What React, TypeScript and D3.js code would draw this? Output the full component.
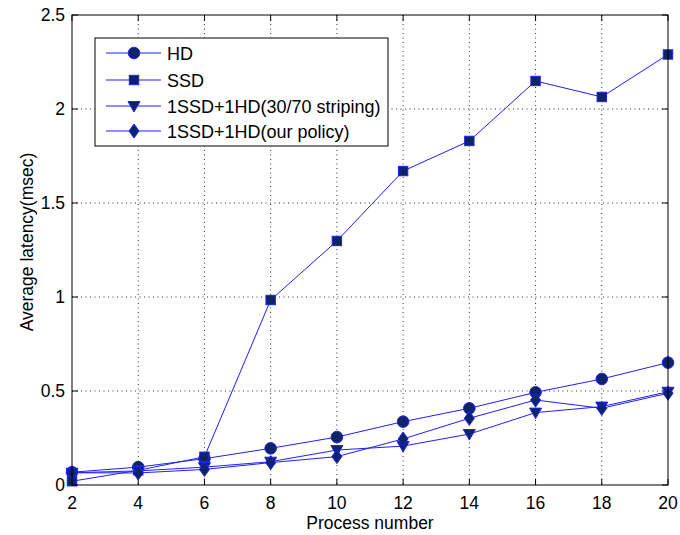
import React from "react";
import * as d3 from "d3";

const processNumbers = [2, 4, 6, 8, 10, 12, 14, 16, 18, 20];
const hdValues = [0.068, 0.095, 0.14, 0.195, 0.255, 0.337, 0.408, 0.493, 0.564, 0.651];
const ssdValues = [0.02, 0.078, 0.15, 0.984, 1.298, 1.67, 1.83, 2.149, 2.064, 2.29];
const stripingValues = [0.065, 0.075, 0.095, 0.124, 0.186, 0.207, 0.271, 0.385, 0.417, 0.496];
const policyValues = [0.065, 0.064, 0.083, 0.119, 0.151, 0.245, 0.355, 0.452, 0.408, 0.488];
const seriesNames = ["HD", "SSD", "1SSD+1HD(30/70 striping)", "1SSD+1HD(our policy)"];
const markerTypes = ["circle", "square", "triangle", "diamond"];
const xTicks = [2, 4, 6, 8, 10, 12, 14, 16, 18, 20];
const yTicks = [0, 0.5, 1, 1.5, 2, 2.5];
const yTickLabels = ["0", "0.5", "1", "1.5", "2", "2.5"];

const W = 680, H = 535;
const L = 72, R = 668, T = 15, B = 485;
const LINE = "#1f1fff";
const FILL = "#0d2466";
const FONT = "Liberation Sans, Arial, Helvetica, sans-serif";

function Marker({ type, x, y }: { type: string; x: number; y: number }) {
  const common = { fill: FILL, stroke: LINE, strokeWidth: 1 };
  if (type === "circle") return <circle cx={x} cy={y} r={5.8} {...common} />;
  if (type === "square") return <rect x={x - 4.7} y={y - 4.7} width={9.4} height={9.4} {...common} />;
  if (type === "triangle") {
    const p = `${x - 6},${y - 4.5} ${x + 6},${y - 4.5} ${x},${y + 6}`;
    return <polygon points={p} {...common} />;
  }
  const p = `${x},${y - 7} ${x + 5},${y} ${x},${y + 7} ${x - 5},${y}`;
  return <polygon points={p} {...common} />;
}

export default function App() {
  const x = d3.scaleLinear().domain([2, 20]).range([L, R]);
  const y = d3.scaleLinear().domain([0, 2.5]).range([B, T]);
  const all = [hdValues, ssdValues, stripingValues, policyValues];
  const line = d3
    .line<number>()
    .x((_, i) => x(processNumbers[i]))
    .y((d) => y(d));

  const legendRows = [53, 80, 106, 131];

  return (
    <svg width={W} height={H} style={{ position: "absolute", left: 0, top: 0, background: "#fff", fontFamily: FONT }}>
      <rect x={0} y={0} width={W} height={H} fill="#fff" />
      {/* grid */}
      {xTicks.slice(1, -1).map((t) => (
        <line key={"gx" + t} x1={x(t)} x2={x(t)} y1={T} y2={B} stroke="#333" strokeWidth={1} strokeDasharray="1,3.5" />
      ))}
      {yTicks.slice(1, -1).map((t) => (
        <line key={"gy" + t} x1={L} x2={R} y1={y(t)} y2={y(t)} stroke="#333" strokeWidth={1} strokeDasharray="1,3.5" />
      ))}
      {/* ticks */}
      {xTicks.map((t) => (
        <g key={"tx" + t}>
          <line x1={x(t)} x2={x(t)} y1={B} y2={B - 6} stroke="#000" />
          <line x1={x(t)} x2={x(t)} y1={T} y2={T + 6} stroke="#000" />
          <text x={x(t)} y={509} fontSize={17.5} textAnchor="middle">{t}</text>
        </g>
      ))}
      {yTicks.map((t, i) => (
        <g key={"ty" + t}>
          <line x1={L} x2={L + 6} y1={y(t)} y2={y(t)} stroke="#000" />
          <line x1={R} x2={R - 6} y1={y(t)} y2={y(t)} stroke="#000" />
          <text x={65} y={y(t) + 6} fontSize={17.5} textAnchor="end">{yTickLabels[i]}</text>
        </g>
      ))}
      {/* series */}
      {all.map((vals, si) => (
        <g key={"s" + si}>
          <path d={line(vals) || ""} fill="none" stroke={LINE} strokeWidth={1} />
          {vals.map((v, i) => (
            <Marker key={i} type={markerTypes[si]} x={x(processNumbers[i])} y={y(v)} />
          ))}
        </g>
      ))}
      {/* frame */}
      <rect x={L} y={T} width={R - L} height={B - T} fill="none" stroke="#000" strokeWidth={1} />
      {/* labels */}
      <text x={(L + R) / 2} y={529} fontSize={17.5} textAnchor="middle">Process number</text>
      <text transform={`translate(33,242) rotate(-90)`} fontSize={17.5} textAnchor="middle">Average latency(msec)</text>
      {/* legend */}
      <rect x={95} y={38} width={293} height={108} fill="#fff" stroke="#000" strokeWidth={1} />
      {seriesNames.map((name, i) => (
        <g key={"lg" + i}>
          <line x1={106} x2={161} y1={legendRows[i]} y2={legendRows[i]} stroke={LINE} strokeWidth={1} />
          <Marker type={markerTypes[i]} x={134} y={legendRows[i]} />
          <text x={167} y={legendRows[i] + 6.5} fontSize={18}>{name}</text>
        </g>
      ))}
    </svg>
  );
}
